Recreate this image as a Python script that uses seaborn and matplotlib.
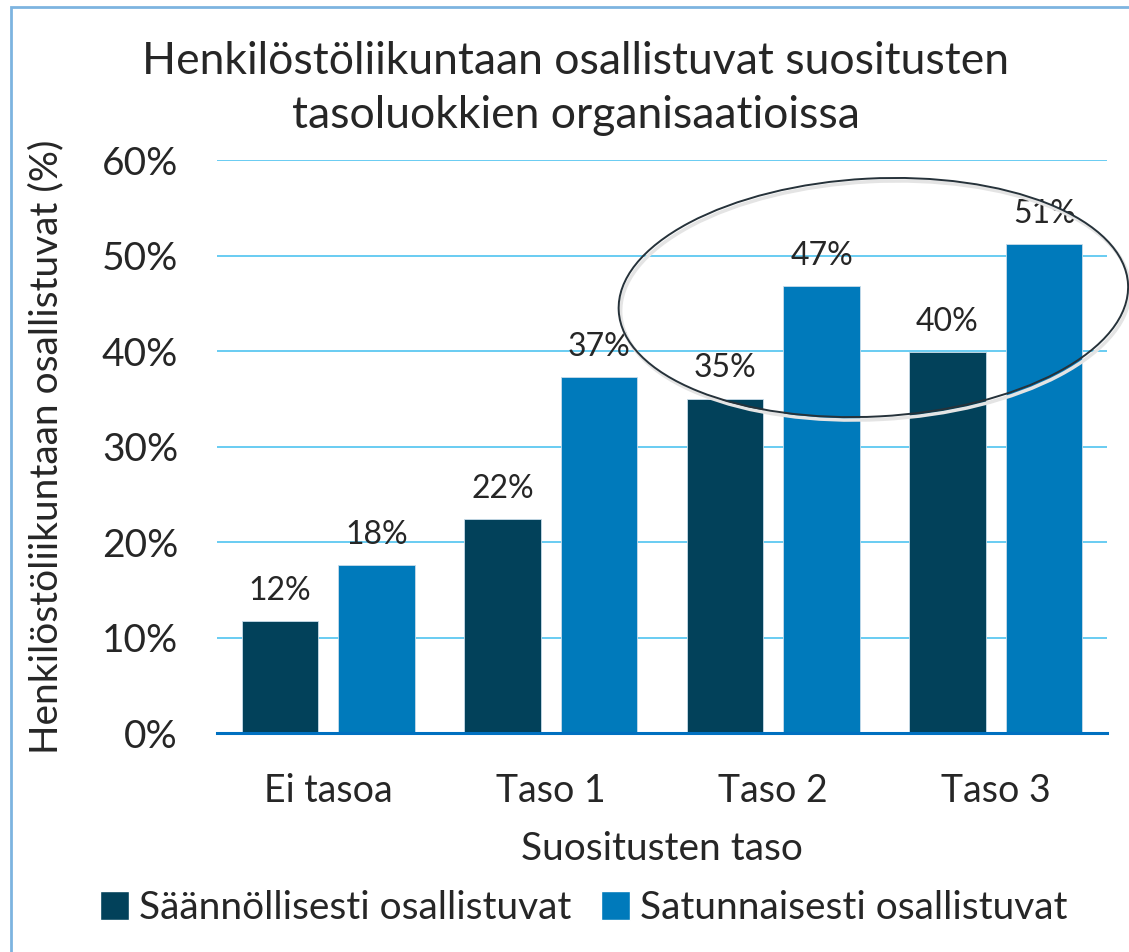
import matplotlib
matplotlib.use("Agg")
import matplotlib.pyplot as plt
from matplotlib.patches import Ellipse, Rectangle, Patch
from matplotlib.transforms import IdentityTransform
import numpy as np
import pandas as pd
import seaborn as sns

# data
tasot = ["Ei tasoa", "Taso 1", "Taso 2", "Taso 3"]
saannollisesti = [11.7, 22.4, 35.0, 39.9]
satunnaisesti = [17.6, 37.3, 46.8, 51.2]
sarjat = ["Säännöllisesti osallistuvat", "Satunnaisesti osallistuvat"]
y_ticks = [0, 10, 20, 30, 40, 50, 60]

df = pd.DataFrame({
    "taso": tasot * 2,
    "arvo": saannollisesti + satunnaisesti,
    "sarja": [sarjat[0]] * 4 + [sarjat[1]] * 4,
})

sns.set_theme(style="white")
plt.rcParams['font.family'] = ['Lato', 'DejaVu Sans']

colors = ["#02415A", "#007ABB"]

fig = plt.figure(figsize=(11.29, 9.52), dpi=100)
ax = fig.add_axes([217 / 1129, 1 - 733 / 952, 890 / 1129, 573 / 952])

sns.barplot(data=df, x="taso", y="arvo", hue="sarja", palette=colors,
            width=0.87, gap=0.21, saturation=1, ax=ax, legend=False,
            edgecolor="#c8dcea", linewidth=0.6)

ax.set_ylim(0, 60)
ax.set_xlim(-0.5, 3.5)
ax.set_yticks(y_ticks)
ax.set_yticklabels([f"{t}%" for t in y_ticks], fontsize=28)
ax.tick_params(axis="x", labelsize=27, pad=23)
ax.tick_params(axis="y", pad=28, length=0)
ax.yaxis.grid(True, color="#4FC3F0", linewidth=1.2)
ax.set_axisbelow(True)
for s in ["top", "right", "left"]:
    ax.spines[s].set_visible(False)
ax.spines["bottom"].set_color("#0070C0")
ax.spines["bottom"].set_linewidth(2.2)
ax.spines["bottom"].set_zorder(5)

ax.set_xlabel("Suositusten taso", fontsize=28, labelpad=16)
ax.set_ylabel("Henkilöstöliikuntaan osallistuvat (%)", fontsize=28, labelpad=27)

# value labels
for cont in ax.containers:
    labels = [f"{round(b.get_height())}%" for b in cont]
    ax.bar_label(cont, labels=labels, fontsize=23, padding=11)

fig.text(0.51, 0.907, "Henkilöstöliikuntaan osallistuvat suositusten\ntasoluokkien organisaatioissa",
         ha="center", va="center", fontsize=32, linespacing=1.42)

# legend
handles = [Patch(facecolor=c) for c in colors]
fig.legend(handles, sarjat, loc="center", bbox_to_anchor=(0.517, 1 - 908 / 952),
           ncol=2, frameon=False, fontsize=28, handlelength=0.75, handleheight=0.75,
           handletextpad=0.25, columnspacing=0.75)

# ellipse highlighting Taso 2 and Taso 3
cx, cy = ax.transData.transform((2.45, 45.6))
ax.add_patch(Ellipse((cx + 2, cy - 3), 510, 238, angle=3, transform=IdentityTransform(),
                     fill=False, edgecolor="#e4e4e4", linewidth=2.5, clip_on=False, zorder=6))
ax.add_patch(Ellipse((cx, cy), 510, 238, angle=3, transform=IdentityTransform(),
                     fill=False, edgecolor="#26323a", linewidth=1.4, clip_on=False, zorder=7))

# frame around the chart
fig.patches.append(Rectangle((11 / 1129, -0.05), 1.2, 1 - 7 / 952 + 0.05, transform=fig.transFigure,
                             fill=False, edgecolor="#7DB4E0", linewidth=2, zorder=10))

fig.savefig("out.png", dpi=100)
